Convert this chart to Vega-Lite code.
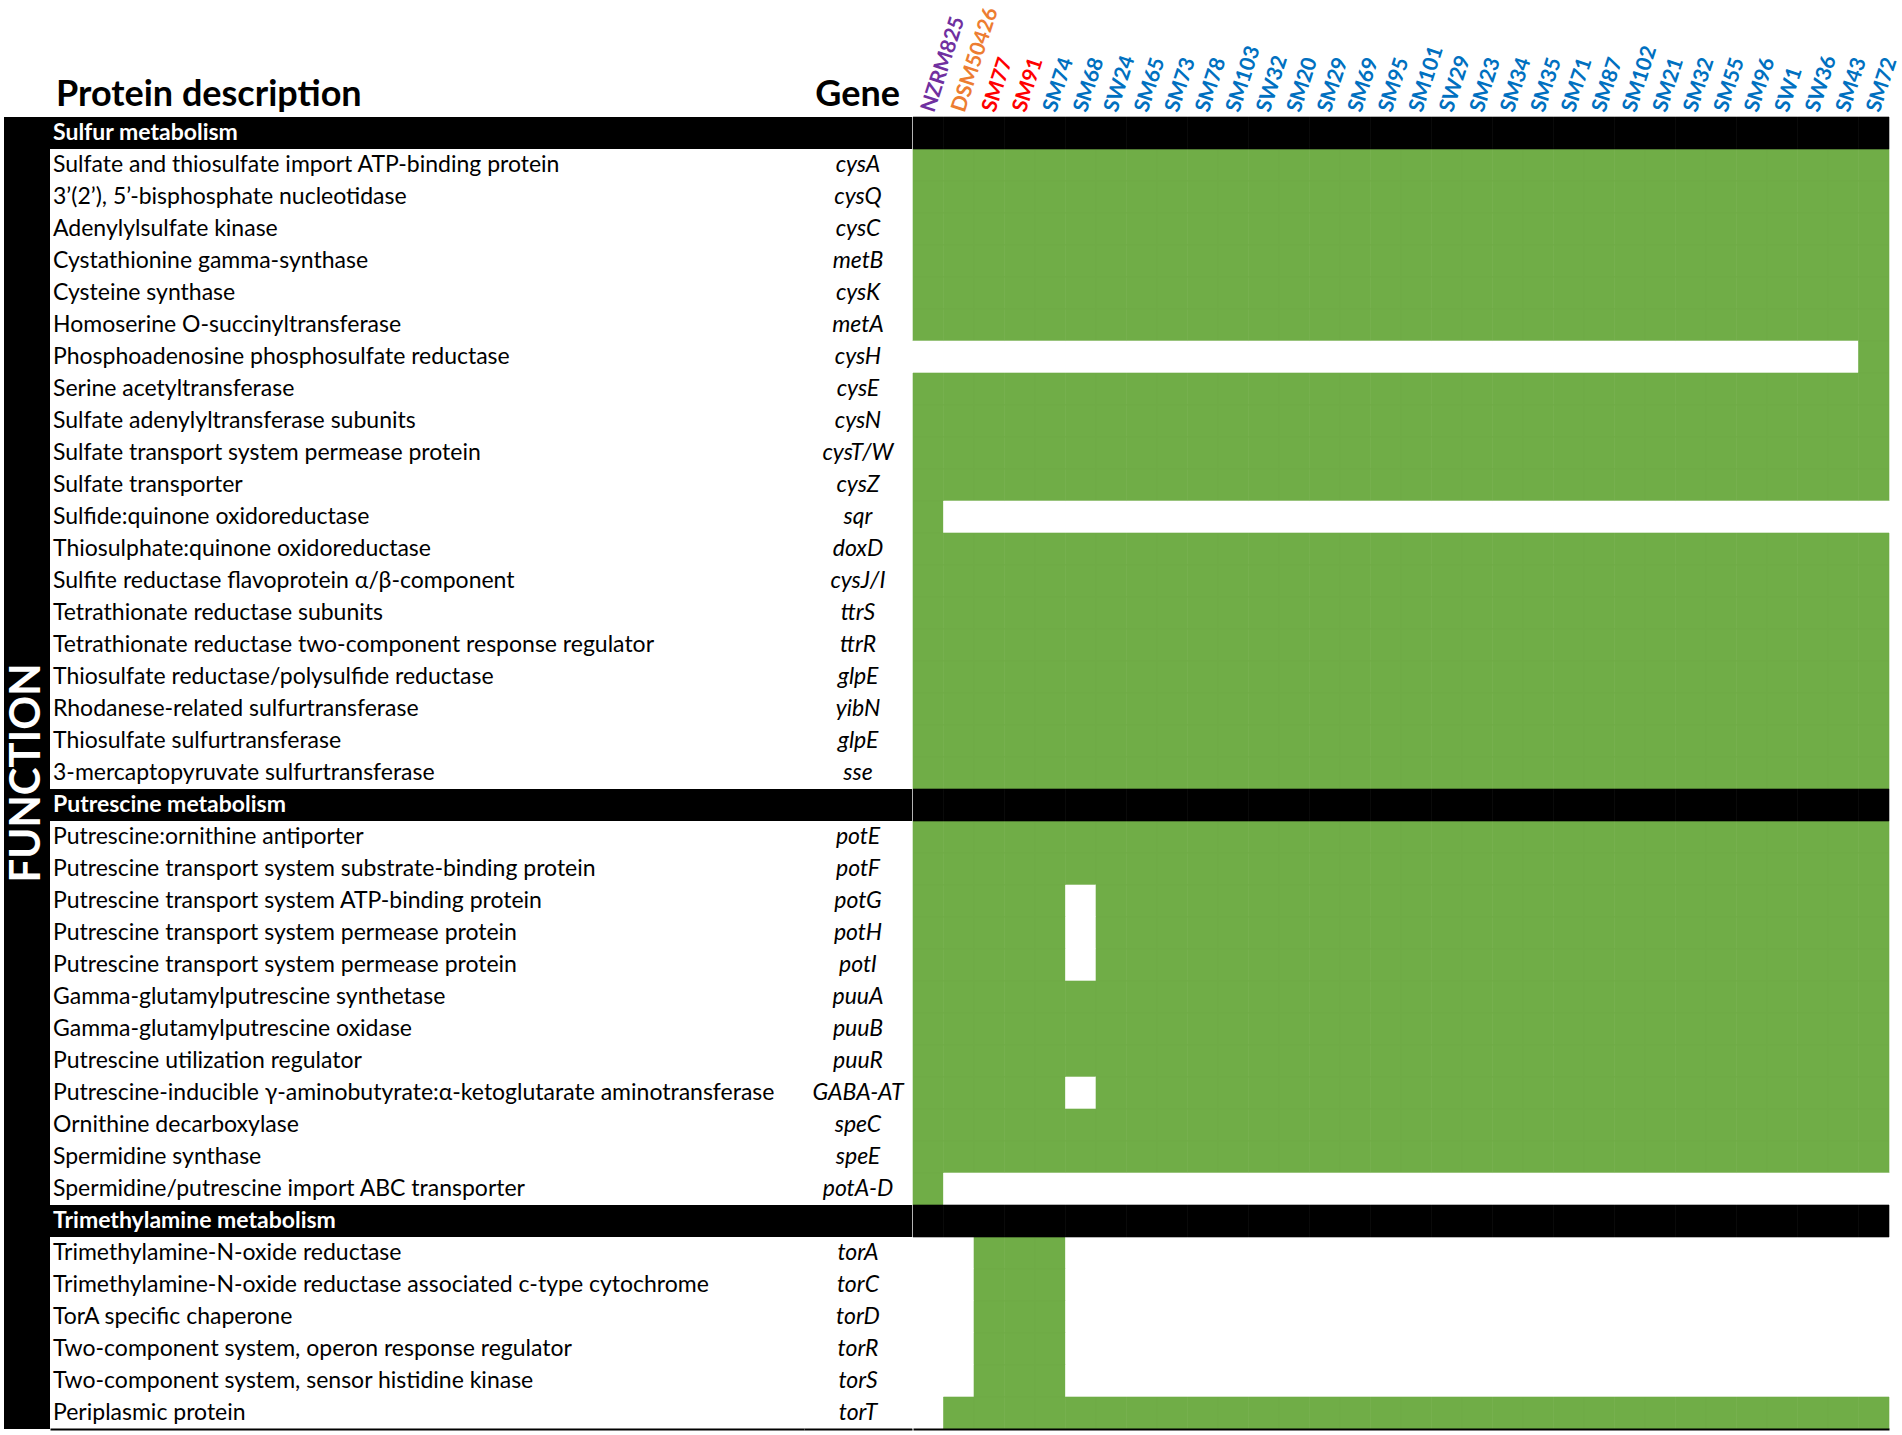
{
  "$schema": "https://vega.github.io/schema/vega-lite/v6.json",
  "padding": {"left": 4, "top": 4, "right": 10, "bottom": 4},
  "background": "white",
  "spacing": 0,
  "config": {"view": {"stroke": null}, "font": "Lato", "concat": {"spacing": 0}},
  "datasets": {
    "rows": [
      {"id":1,"kind":"header","desc":"Sulfur metabolism","gene":""},
      {"id":2,"kind":"gene","desc":"Sulfate and thiosulfate import ATP-binding protein","gene":"cysA","NZRM825":1,"DSM50426":1,"SM77":1,"SM91":1,"SM74":1,"SM68":1,"SW24":1,"SM65":1,"SM73":1,"SM78":1,"SM103":1,"SW32":1,"SM20":1,"SM29":1,"SM69":1,"SM95":1,"SM101":1,"SW29":1,"SM23":1,"SM34":1,"SM35":1,"SM71":1,"SM87":1,"SM102":1,"SM21":1,"SM32":1,"SM55":1,"SM96":1,"SW1":1,"SW36":1,"SM43":1,"SM72":1},
      {"id":3,"kind":"gene","desc":"3’(2’), 5’-bisphosphate nucleotidase","gene":"cysQ","NZRM825":1,"DSM50426":1,"SM77":1,"SM91":1,"SM74":1,"SM68":1,"SW24":1,"SM65":1,"SM73":1,"SM78":1,"SM103":1,"SW32":1,"SM20":1,"SM29":1,"SM69":1,"SM95":1,"SM101":1,"SW29":1,"SM23":1,"SM34":1,"SM35":1,"SM71":1,"SM87":1,"SM102":1,"SM21":1,"SM32":1,"SM55":1,"SM96":1,"SW1":1,"SW36":1,"SM43":1,"SM72":1},
      {"id":4,"kind":"gene","desc":"Adenylylsulfate kinase","gene":"cysC","NZRM825":1,"DSM50426":1,"SM77":1,"SM91":1,"SM74":1,"SM68":1,"SW24":1,"SM65":1,"SM73":1,"SM78":1,"SM103":1,"SW32":1,"SM20":1,"SM29":1,"SM69":1,"SM95":1,"SM101":1,"SW29":1,"SM23":1,"SM34":1,"SM35":1,"SM71":1,"SM87":1,"SM102":1,"SM21":1,"SM32":1,"SM55":1,"SM96":1,"SW1":1,"SW36":1,"SM43":1,"SM72":1},
      {"id":5,"kind":"gene","desc":"Cystathionine gamma-synthase","gene":"metB","NZRM825":1,"DSM50426":1,"SM77":1,"SM91":1,"SM74":1,"SM68":1,"SW24":1,"SM65":1,"SM73":1,"SM78":1,"SM103":1,"SW32":1,"SM20":1,"SM29":1,"SM69":1,"SM95":1,"SM101":1,"SW29":1,"SM23":1,"SM34":1,"SM35":1,"SM71":1,"SM87":1,"SM102":1,"SM21":1,"SM32":1,"SM55":1,"SM96":1,"SW1":1,"SW36":1,"SM43":1,"SM72":1},
      {"id":6,"kind":"gene","desc":"Cysteine synthase","gene":"cysK","NZRM825":1,"DSM50426":1,"SM77":1,"SM91":1,"SM74":1,"SM68":1,"SW24":1,"SM65":1,"SM73":1,"SM78":1,"SM103":1,"SW32":1,"SM20":1,"SM29":1,"SM69":1,"SM95":1,"SM101":1,"SW29":1,"SM23":1,"SM34":1,"SM35":1,"SM71":1,"SM87":1,"SM102":1,"SM21":1,"SM32":1,"SM55":1,"SM96":1,"SW1":1,"SW36":1,"SM43":1,"SM72":1},
      {"id":7,"kind":"gene","desc":"Homoserine O-succinyltransferase","gene":"metA","NZRM825":1,"DSM50426":1,"SM77":1,"SM91":1,"SM74":1,"SM68":1,"SW24":1,"SM65":1,"SM73":1,"SM78":1,"SM103":1,"SW32":1,"SM20":1,"SM29":1,"SM69":1,"SM95":1,"SM101":1,"SW29":1,"SM23":1,"SM34":1,"SM35":1,"SM71":1,"SM87":1,"SM102":1,"SM21":1,"SM32":1,"SM55":1,"SM96":1,"SW1":1,"SW36":1,"SM43":1,"SM72":1},
      {"id":8,"kind":"gene","desc":"Phosphoadenosine phosphosulfate reductase","gene":"cysH","NZRM825":0,"DSM50426":0,"SM77":0,"SM91":0,"SM74":0,"SM68":0,"SW24":0,"SM65":0,"SM73":0,"SM78":0,"SM103":0,"SW32":0,"SM20":0,"SM29":0,"SM69":0,"SM95":0,"SM101":0,"SW29":0,"SM23":0,"SM34":0,"SM35":0,"SM71":0,"SM87":0,"SM102":0,"SM21":0,"SM32":0,"SM55":0,"SM96":0,"SW1":0,"SW36":0,"SM43":0,"SM72":1},
      {"id":9,"kind":"gene","desc":"Serine acetyltransferase","gene":"cysE","NZRM825":1,"DSM50426":1,"SM77":1,"SM91":1,"SM74":1,"SM68":1,"SW24":1,"SM65":1,"SM73":1,"SM78":1,"SM103":1,"SW32":1,"SM20":1,"SM29":1,"SM69":1,"SM95":1,"SM101":1,"SW29":1,"SM23":1,"SM34":1,"SM35":1,"SM71":1,"SM87":1,"SM102":1,"SM21":1,"SM32":1,"SM55":1,"SM96":1,"SW1":1,"SW36":1,"SM43":1,"SM72":1},
      {"id":10,"kind":"gene","desc":"Sulfate adenylyltransferase subunits","gene":"cysN","NZRM825":1,"DSM50426":1,"SM77":1,"SM91":1,"SM74":1,"SM68":1,"SW24":1,"SM65":1,"SM73":1,"SM78":1,"SM103":1,"SW32":1,"SM20":1,"SM29":1,"SM69":1,"SM95":1,"SM101":1,"SW29":1,"SM23":1,"SM34":1,"SM35":1,"SM71":1,"SM87":1,"SM102":1,"SM21":1,"SM32":1,"SM55":1,"SM96":1,"SW1":1,"SW36":1,"SM43":1,"SM72":1},
      {"id":11,"kind":"gene","desc":"Sulfate transport system permease protein","gene":"cysT/W","NZRM825":1,"DSM50426":1,"SM77":1,"SM91":1,"SM74":1,"SM68":1,"SW24":1,"SM65":1,"SM73":1,"SM78":1,"SM103":1,"SW32":1,"SM20":1,"SM29":1,"SM69":1,"SM95":1,"SM101":1,"SW29":1,"SM23":1,"SM34":1,"SM35":1,"SM71":1,"SM87":1,"SM102":1,"SM21":1,"SM32":1,"SM55":1,"SM96":1,"SW1":1,"SW36":1,"SM43":1,"SM72":1},
      {"id":12,"kind":"gene","desc":"Sulfate transporter","gene":"cysZ","NZRM825":1,"DSM50426":1,"SM77":1,"SM91":1,"SM74":1,"SM68":1,"SW24":1,"SM65":1,"SM73":1,"SM78":1,"SM103":1,"SW32":1,"SM20":1,"SM29":1,"SM69":1,"SM95":1,"SM101":1,"SW29":1,"SM23":1,"SM34":1,"SM35":1,"SM71":1,"SM87":1,"SM102":1,"SM21":1,"SM32":1,"SM55":1,"SM96":1,"SW1":1,"SW36":1,"SM43":1,"SM72":1},
      {"id":13,"kind":"gene","desc":"Sulfide:quinone oxidoreductase","gene":"sqr","NZRM825":1,"DSM50426":0,"SM77":0,"SM91":0,"SM74":0,"SM68":0,"SW24":0,"SM65":0,"SM73":0,"SM78":0,"SM103":0,"SW32":0,"SM20":0,"SM29":0,"SM69":0,"SM95":0,"SM101":0,"SW29":0,"SM23":0,"SM34":0,"SM35":0,"SM71":0,"SM87":0,"SM102":0,"SM21":0,"SM32":0,"SM55":0,"SM96":0,"SW1":0,"SW36":0,"SM43":0,"SM72":0},
      {"id":14,"kind":"gene","desc":"Thiosulphate:quinone oxidoreductase","gene":"doxD","NZRM825":1,"DSM50426":1,"SM77":1,"SM91":1,"SM74":1,"SM68":1,"SW24":1,"SM65":1,"SM73":1,"SM78":1,"SM103":1,"SW32":1,"SM20":1,"SM29":1,"SM69":1,"SM95":1,"SM101":1,"SW29":1,"SM23":1,"SM34":1,"SM35":1,"SM71":1,"SM87":1,"SM102":1,"SM21":1,"SM32":1,"SM55":1,"SM96":1,"SW1":1,"SW36":1,"SM43":1,"SM72":1},
      {"id":15,"kind":"gene","desc":"Sulfite reductase flavoprotein α/β-component","gene":"cysJ/I","NZRM825":1,"DSM50426":1,"SM77":1,"SM91":1,"SM74":1,"SM68":1,"SW24":1,"SM65":1,"SM73":1,"SM78":1,"SM103":1,"SW32":1,"SM20":1,"SM29":1,"SM69":1,"SM95":1,"SM101":1,"SW29":1,"SM23":1,"SM34":1,"SM35":1,"SM71":1,"SM87":1,"SM102":1,"SM21":1,"SM32":1,"SM55":1,"SM96":1,"SW1":1,"SW36":1,"SM43":1,"SM72":1},
      {"id":16,"kind":"gene","desc":"Tetrathionate reductase subunits","gene":"ttrS","NZRM825":1,"DSM50426":1,"SM77":1,"SM91":1,"SM74":1,"SM68":1,"SW24":1,"SM65":1,"SM73":1,"SM78":1,"SM103":1,"SW32":1,"SM20":1,"SM29":1,"SM69":1,"SM95":1,"SM101":1,"SW29":1,"SM23":1,"SM34":1,"SM35":1,"SM71":1,"SM87":1,"SM102":1,"SM21":1,"SM32":1,"SM55":1,"SM96":1,"SW1":1,"SW36":1,"SM43":1,"SM72":1},
      {"id":17,"kind":"gene","desc":"Tetrathionate reductase two-component response regulator","gene":"ttrR","NZRM825":1,"DSM50426":1,"SM77":1,"SM91":1,"SM74":1,"SM68":1,"SW24":1,"SM65":1,"SM73":1,"SM78":1,"SM103":1,"SW32":1,"SM20":1,"SM29":1,"SM69":1,"SM95":1,"SM101":1,"SW29":1,"SM23":1,"SM34":1,"SM35":1,"SM71":1,"SM87":1,"SM102":1,"SM21":1,"SM32":1,"SM55":1,"SM96":1,"SW1":1,"SW36":1,"SM43":1,"SM72":1},
      {"id":18,"kind":"gene","desc":"Thiosulfate reductase/polysulfide reductase","gene":"glpE","NZRM825":1,"DSM50426":1,"SM77":1,"SM91":1,"SM74":1,"SM68":1,"SW24":1,"SM65":1,"SM73":1,"SM78":1,"SM103":1,"SW32":1,"SM20":1,"SM29":1,"SM69":1,"SM95":1,"SM101":1,"SW29":1,"SM23":1,"SM34":1,"SM35":1,"SM71":1,"SM87":1,"SM102":1,"SM21":1,"SM32":1,"SM55":1,"SM96":1,"SW1":1,"SW36":1,"SM43":1,"SM72":1},
      {"id":19,"kind":"gene","desc":"Rhodanese-related sulfurtransferase","gene":"yibN","NZRM825":1,"DSM50426":1,"SM77":1,"SM91":1,"SM74":1,"SM68":1,"SW24":1,"SM65":1,"SM73":1,"SM78":1,"SM103":1,"SW32":1,"SM20":1,"SM29":1,"SM69":1,"SM95":1,"SM101":1,"SW29":1,"SM23":1,"SM34":1,"SM35":1,"SM71":1,"SM87":1,"SM102":1,"SM21":1,"SM32":1,"SM55":1,"SM96":1,"SW1":1,"SW36":1,"SM43":1,"SM72":1},
      {"id":20,"kind":"gene","desc":"Thiosulfate sulfurtransferase","gene":"glpE","NZRM825":1,"DSM50426":1,"SM77":1,"SM91":1,"SM74":1,"SM68":1,"SW24":1,"SM65":1,"SM73":1,"SM78":1,"SM103":1,"SW32":1,"SM20":1,"SM29":1,"SM69":1,"SM95":1,"SM101":1,"SW29":1,"SM23":1,"SM34":1,"SM35":1,"SM71":1,"SM87":1,"SM102":1,"SM21":1,"SM32":1,"SM55":1,"SM96":1,"SW1":1,"SW36":1,"SM43":1,"SM72":1},
      {"id":21,"kind":"gene","desc":"3-mercaptopyruvate sulfurtransferase","gene":"sse","NZRM825":1,"DSM50426":1,"SM77":1,"SM91":1,"SM74":1,"SM68":1,"SW24":1,"SM65":1,"SM73":1,"SM78":1,"SM103":1,"SW32":1,"SM20":1,"SM29":1,"SM69":1,"SM95":1,"SM101":1,"SW29":1,"SM23":1,"SM34":1,"SM35":1,"SM71":1,"SM87":1,"SM102":1,"SM21":1,"SM32":1,"SM55":1,"SM96":1,"SW1":1,"SW36":1,"SM43":1,"SM72":1},
      {"id":22,"kind":"header","desc":"Putrescine metabolism","gene":""},
      {"id":23,"kind":"gene","desc":"Putrescine:ornithine antiporter","gene":"potE","NZRM825":1,"DSM50426":1,"SM77":1,"SM91":1,"SM74":1,"SM68":1,"SW24":1,"SM65":1,"SM73":1,"SM78":1,"SM103":1,"SW32":1,"SM20":1,"SM29":1,"SM69":1,"SM95":1,"SM101":1,"SW29":1,"SM23":1,"SM34":1,"SM35":1,"SM71":1,"SM87":1,"SM102":1,"SM21":1,"SM32":1,"SM55":1,"SM96":1,"SW1":1,"SW36":1,"SM43":1,"SM72":1},
      {"id":24,"kind":"gene","desc":"Putrescine transport system substrate-binding protein","gene":"potF","NZRM825":1,"DSM50426":1,"SM77":1,"SM91":1,"SM74":1,"SM68":1,"SW24":1,"SM65":1,"SM73":1,"SM78":1,"SM103":1,"SW32":1,"SM20":1,"SM29":1,"SM69":1,"SM95":1,"SM101":1,"SW29":1,"SM23":1,"SM34":1,"SM35":1,"SM71":1,"SM87":1,"SM102":1,"SM21":1,"SM32":1,"SM55":1,"SM96":1,"SW1":1,"SW36":1,"SM43":1,"SM72":1},
      {"id":25,"kind":"gene","desc":"Putrescine transport system ATP-binding protein","gene":"potG","NZRM825":1,"DSM50426":1,"SM77":1,"SM91":1,"SM74":1,"SM68":0,"SW24":1,"SM65":1,"SM73":1,"SM78":1,"SM103":1,"SW32":1,"SM20":1,"SM29":1,"SM69":1,"SM95":1,"SM101":1,"SW29":1,"SM23":1,"SM34":1,"SM35":1,"SM71":1,"SM87":1,"SM102":1,"SM21":1,"SM32":1,"SM55":1,"SM96":1,"SW1":1,"SW36":1,"SM43":1,"SM72":1},
      {"id":26,"kind":"gene","desc":"Putrescine transport system permease protein","gene":"potH","NZRM825":1,"DSM50426":1,"SM77":1,"SM91":1,"SM74":1,"SM68":0,"SW24":1,"SM65":1,"SM73":1,"SM78":1,"SM103":1,"SW32":1,"SM20":1,"SM29":1,"SM69":1,"SM95":1,"SM101":1,"SW29":1,"SM23":1,"SM34":1,"SM35":1,"SM71":1,"SM87":1,"SM102":1,"SM21":1,"SM32":1,"SM55":1,"SM96":1,"SW1":1,"SW36":1,"SM43":1,"SM72":1},
      {"id":27,"kind":"gene","desc":"Putrescine transport system permease protein","gene":"potI","NZRM825":1,"DSM50426":1,"SM77":1,"SM91":1,"SM74":1,"SM68":0,"SW24":1,"SM65":1,"SM73":1,"SM78":1,"SM103":1,"SW32":1,"SM20":1,"SM29":1,"SM69":1,"SM95":1,"SM101":1,"SW29":1,"SM23":1,"SM34":1,"SM35":1,"SM71":1,"SM87":1,"SM102":1,"SM21":1,"SM32":1,"SM55":1,"SM96":1,"SW1":1,"SW36":1,"SM43":1,"SM72":1},
      {"id":28,"kind":"gene","desc":"Gamma-glutamylputrescine synthetase","gene":"puuA","NZRM825":1,"DSM50426":1,"SM77":1,"SM91":1,"SM74":1,"SM68":1,"SW24":1,"SM65":1,"SM73":1,"SM78":1,"SM103":1,"SW32":1,"SM20":1,"SM29":1,"SM69":1,"SM95":1,"SM101":1,"SW29":1,"SM23":1,"SM34":1,"SM35":1,"SM71":1,"SM87":1,"SM102":1,"SM21":1,"SM32":1,"SM55":1,"SM96":1,"SW1":1,"SW36":1,"SM43":1,"SM72":1},
      {"id":29,"kind":"gene","desc":"Gamma-glutamylputrescine oxidase","gene":"puuB","NZRM825":1,"DSM50426":1,"SM77":1,"SM91":1,"SM74":1,"SM68":1,"SW24":1,"SM65":1,"SM73":1,"SM78":1,"SM103":1,"SW32":1,"SM20":1,"SM29":1,"SM69":1,"SM95":1,"SM101":1,"SW29":1,"SM23":1,"SM34":1,"SM35":1,"SM71":1,"SM87":1,"SM102":1,"SM21":1,"SM32":1,"SM55":1,"SM96":1,"SW1":1,"SW36":1,"SM43":1,"SM72":1},
      {"id":30,"kind":"gene","desc":"Putrescine utilization regulator","gene":"puuR","NZRM825":1,"DSM50426":1,"SM77":1,"SM91":1,"SM74":1,"SM68":1,"SW24":1,"SM65":1,"SM73":1,"SM78":1,"SM103":1,"SW32":1,"SM20":1,"SM29":1,"SM69":1,"SM95":1,"SM101":1,"SW29":1,"SM23":1,"SM34":1,"SM35":1,"SM71":1,"SM87":1,"SM102":1,"SM21":1,"SM32":1,"SM55":1,"SM96":1,"SW1":1,"SW36":1,"SM43":1,"SM72":1},
      {"id":31,"kind":"gene","desc":"Putrescine-inducible γ-aminobutyrate:α-ketoglutarate aminotransferase","gene":"GABA-AT","NZRM825":1,"DSM50426":1,"SM77":1,"SM91":1,"SM74":1,"SM68":0,"SW24":1,"SM65":1,"SM73":1,"SM78":1,"SM103":1,"SW32":1,"SM20":1,"SM29":1,"SM69":1,"SM95":1,"SM101":1,"SW29":1,"SM23":1,"SM34":1,"SM35":1,"SM71":1,"SM87":1,"SM102":1,"SM21":1,"SM32":1,"SM55":1,"SM96":1,"SW1":1,"SW36":1,"SM43":1,"SM72":1},
      {"id":32,"kind":"gene","desc":"Ornithine decarboxylase","gene":"speC","NZRM825":1,"DSM50426":1,"SM77":1,"SM91":1,"SM74":1,"SM68":1,"SW24":1,"SM65":1,"SM73":1,"SM78":1,"SM103":1,"SW32":1,"SM20":1,"SM29":1,"SM69":1,"SM95":1,"SM101":1,"SW29":1,"SM23":1,"SM34":1,"SM35":1,"SM71":1,"SM87":1,"SM102":1,"SM21":1,"SM32":1,"SM55":1,"SM96":1,"SW1":1,"SW36":1,"SM43":1,"SM72":1},
      {"id":33,"kind":"gene","desc":"Spermidine synthase","gene":"speE","NZRM825":1,"DSM50426":1,"SM77":1,"SM91":1,"SM74":1,"SM68":1,"SW24":1,"SM65":1,"SM73":1,"SM78":1,"SM103":1,"SW32":1,"SM20":1,"SM29":1,"SM69":1,"SM95":1,"SM101":1,"SW29":1,"SM23":1,"SM34":1,"SM35":1,"SM71":1,"SM87":1,"SM102":1,"SM21":1,"SM32":1,"SM55":1,"SM96":1,"SW1":1,"SW36":1,"SM43":1,"SM72":1},
      {"id":34,"kind":"gene","desc":"Spermidine/putrescine import ABC transporter","gene":"potA-D","NZRM825":1,"DSM50426":0,"SM77":0,"SM91":0,"SM74":0,"SM68":0,"SW24":0,"SM65":0,"SM73":0,"SM78":0,"SM103":0,"SW32":0,"SM20":0,"SM29":0,"SM69":0,"SM95":0,"SM101":0,"SW29":0,"SM23":0,"SM34":0,"SM35":0,"SM71":0,"SM87":0,"SM102":0,"SM21":0,"SM32":0,"SM55":0,"SM96":0,"SW1":0,"SW36":0,"SM43":0,"SM72":0},
      {"id":35,"kind":"header","desc":"Trimethylamine metabolism","gene":""},
      {"id":36,"kind":"gene","desc":"Trimethylamine-N-oxide reductase","gene":"torA","NZRM825":0,"DSM50426":0,"SM77":1,"SM91":1,"SM74":1,"SM68":0,"SW24":0,"SM65":0,"SM73":0,"SM78":0,"SM103":0,"SW32":0,"SM20":0,"SM29":0,"SM69":0,"SM95":0,"SM101":0,"SW29":0,"SM23":0,"SM34":0,"SM35":0,"SM71":0,"SM87":0,"SM102":0,"SM21":0,"SM32":0,"SM55":0,"SM96":0,"SW1":0,"SW36":0,"SM43":0,"SM72":0},
      {"id":37,"kind":"gene","desc":"Trimethylamine-N-oxide reductase associated c-type cytochrome","gene":"torC","NZRM825":0,"DSM50426":0,"SM77":1,"SM91":1,"SM74":1,"SM68":0,"SW24":0,"SM65":0,"SM73":0,"SM78":0,"SM103":0,"SW32":0,"SM20":0,"SM29":0,"SM69":0,"SM95":0,"SM101":0,"SW29":0,"SM23":0,"SM34":0,"SM35":0,"SM71":0,"SM87":0,"SM102":0,"SM21":0,"SM32":0,"SM55":0,"SM96":0,"SW1":0,"SW36":0,"SM43":0,"SM72":0},
      {"id":38,"kind":"gene","desc":"TorA specific chaperone","gene":"torD","NZRM825":0,"DSM50426":0,"SM77":1,"SM91":1,"SM74":1,"SM68":0,"SW24":0,"SM65":0,"SM73":0,"SM78":0,"SM103":0,"SW32":0,"SM20":0,"SM29":0,"SM69":0,"SM95":0,"SM101":0,"SW29":0,"SM23":0,"SM34":0,"SM35":0,"SM71":0,"SM87":0,"SM102":0,"SM21":0,"SM32":0,"SM55":0,"SM96":0,"SW1":0,"SW36":0,"SM43":0,"SM72":0},
      {"id":39,"kind":"gene","desc":"Two-component system, operon response regulator","gene":"torR","NZRM825":0,"DSM50426":0,"SM77":1,"SM91":1,"SM74":1,"SM68":0,"SW24":0,"SM65":0,"SM73":0,"SM78":0,"SM103":0,"SW32":0,"SM20":0,"SM29":0,"SM69":0,"SM95":0,"SM101":0,"SW29":0,"SM23":0,"SM34":0,"SM35":0,"SM71":0,"SM87":0,"SM102":0,"SM21":0,"SM32":0,"SM55":0,"SM96":0,"SW1":0,"SW36":0,"SM43":0,"SM72":0},
      {"id":40,"kind":"gene","desc":"Two-component system, sensor histidine kinase","gene":"torS","NZRM825":0,"DSM50426":0,"SM77":1,"SM91":1,"SM74":1,"SM68":0,"SW24":0,"SM65":0,"SM73":0,"SM78":0,"SM103":0,"SW32":0,"SM20":0,"SM29":0,"SM69":0,"SM95":0,"SM101":0,"SW29":0,"SM23":0,"SM34":0,"SM35":0,"SM71":0,"SM87":0,"SM102":0,"SM21":0,"SM32":0,"SM55":0,"SM96":0,"SW1":0,"SW36":0,"SM43":0,"SM72":0},
      {"id":41,"kind":"gene","desc":"Periplasmic protein","gene":"torT","NZRM825":0,"DSM50426":1,"SM77":1,"SM91":1,"SM74":1,"SM68":1,"SW24":1,"SM65":1,"SM73":1,"SM78":1,"SM103":1,"SW32":1,"SM20":1,"SM29":1,"SM69":1,"SM95":1,"SM101":1,"SW29":1,"SM23":1,"SM34":1,"SM35":1,"SM71":1,"SM87":1,"SM102":1,"SM21":1,"SM32":1,"SM55":1,"SM96":1,"SW1":1,"SW36":1,"SM43":1,"SM72":1}
    ],
    "func": [{"label": "FUNCTION"}]
  },
  "hconcat": [
    {
      "width": 46, "height": 1312,
      "layer": [
        {
          "data": {"name": "rows"},
          "mark": {"type": "rect", "color": "#000000"},
          "encoding": {
            "y": {"field": "id", "type": "ordinal", "scale": {"domain": [1,2,3,4,5,6,7,8,9,10,11,12,13,14,15,16,17,18,19,20,21,22,23,24,25,26,27,28,29,30,31,32,33,34,35,36,37,38,39,40,41], "paddingInner": 0, "paddingOuter": 0}, "axis": null}
          }
        },
        {
          "data": {"name": "func"},
          "mark": {"type": "text", "angle": 270, "align": "center", "baseline": "middle", "fontSize": 42, "fontWeight": "bold", "color": "#FFFFFF", "font": "Lato"},
          "encoding": {
            "x": {"datum": 0.5, "type": "quantitative", "scale": {"domain": [0, 1]}, "axis": null},
            "y": {"datum": 21, "type": "ordinal"},
            "text": {"field": "label"}
          }
        }
      ]
    },
    {
      "width": 754, "height": 1312,
      "title": {"text": "Protein description", "anchor": "start", "fontSize": 36, "fontWeight": "bold", "font": "Lato", "color": "#000000", "offset": 3, "dx": 6},
      "data": {"name": "rows"},
      "layer": [
        {
          "transform": [{"filter": "datum.kind === 'header'"}],
          "mark": {"type": "rect", "color": "#000000"},
          "encoding": {
            "y": {"field": "id", "type": "ordinal", "scale": {"domain": [1,2,3,4,5,6,7,8,9,10,11,12,13,14,15,16,17,18,19,20,21,22,23,24,25,26,27,28,29,30,31,32,33,34,35,36,37,38,39,40,41], "paddingInner": 0, "paddingOuter": 0}, "axis": null}
          }
        },
        {
          "transform": [{"filter": "datum.kind === 'gene'"}],
          "mark": {"type": "text", "align": "left", "baseline": "middle", "dx": 3, "fontSize": 23, "font": "Lato", "color": "#000000"},
          "encoding": {
            "x": {"datum": 0, "type": "quantitative", "scale": {"domain": [0, 1]}, "axis": {"orient": "bottom", "labels": false, "ticks": false, "grid": false, "title": null, "domainColor": "#000000", "domainWidth": 2}},
            "y": {"field": "id", "type": "ordinal"},
            "text": {"field": "desc"}
          }
        },
        {
          "transform": [{"filter": "datum.kind === 'header'"}],
          "mark": {"type": "text", "align": "left", "baseline": "middle", "dx": 3, "fontSize": 23, "fontWeight": "bold", "font": "Lato", "color": "#FFFFFF"},
          "encoding": {
            "x": {"datum": 0, "type": "quantitative"},
            "y": {"field": "id", "type": "ordinal"},
            "text": {"field": "desc"}
          }
        }
      ]
    },
    {
      "width": 108, "height": 1312,
      "title": {"text": "Gene", "anchor": "end", "fontSize": 36, "fontWeight": "bold", "font": "Lato", "color": "#000000", "offset": 3, "dx": -12},
      "data": {"name": "rows"},
      "layer": [
        {
          "transform": [{"filter": "datum.kind === 'header'"}],
          "mark": {"type": "rect", "color": "#000000"},
          "encoding": {
            "y": {"field": "id", "type": "ordinal", "scale": {"domain": [1,2,3,4,5,6,7,8,9,10,11,12,13,14,15,16,17,18,19,20,21,22,23,24,25,26,27,28,29,30,31,32,33,34,35,36,37,38,39,40,41], "paddingInner": 0, "paddingOuter": 0}, "axis": null}
          }
        },
        {
          "transform": [{"filter": "datum.kind === 'gene'"}],
          "mark": {"type": "text", "align": "center", "baseline": "middle", "fontSize": 23, "fontStyle": "italic", "font": "Lato", "color": "#000000"},
          "encoding": {
            "x": {"datum": 0.5, "type": "quantitative", "scale": {"domain": [0, 1]}, "axis": {"orient": "bottom", "labels": false, "ticks": false, "grid": false, "title": null, "domainColor": "#000000", "domainWidth": 2}},
            "y": {"field": "id", "type": "ordinal"},
            "text": {"field": "gene"}
          }
        }
      ]
    },
    {
      "width": 976, "height": 1312,
      "data": {"name": "rows"},
      "layer": [
        {
          "transform": [
            {"filter": "datum.kind === 'gene'"},
            {"fold": ["NZRM825","DSM50426","SM77","SM91","SM74","SM68","SW24","SM65","SM73","SM78","SM103","SW32","SM20","SM29","SM69","SM95","SM101","SW29","SM23","SM34","SM35","SM71","SM87","SM102","SM21","SM32","SM55","SM96","SW1","SW36","SM43","SM72"], "as": ["strain", "v"]}
          ],
          "mark": {"type": "rect", "strokeWidth": 0.6},
          "encoding": {
            "x": {
              "field": "strain", "type": "nominal",
              "scale": {"domain": ["NZRM825","DSM50426","SM77","SM91","SM74","SM68","SW24","SM65","SM73","SM78","SM103","SW32","SM20","SM29","SM69","SM95","SM101","SW29","SM23","SM34","SM35","SM71","SM87","SM102","SM21","SM32","SM55","SM96","SW1","SW36","SM43","SM72"], "paddingInner": 0, "paddingOuter": 0},
              "axis": {
                "orient": "top", "title": null, "ticks": false, "domain": false, "grid": false,
                "labelAngle": -72, "labelAlign": "left", "labelBaseline": "middle", "labelPadding": 6,
                "labelFont": "Lato", "labelFontSize": 21, "labelFontWeight": "bold",
                "labelOverlap": false, "labelLimit": 0, "labelBound": false, "labelFlush": false,
                "labelColor": {"expr": "datum.value === 'NZRM825' ? '#7030A0' : datum.value === 'DSM50426' ? '#ED7D31' : (datum.value === 'SM77' || datum.value === 'SM91') ? '#FF0000' : '#0070C0'"}
              }
            },
            "y": {"field": "id", "type": "ordinal", "scale": {"domain": [1,2,3,4,5,6,7,8,9,10,11,12,13,14,15,16,17,18,19,20,21,22,23,24,25,26,27,28,29,30,31,32,33,34,35,36,37,38,39,40,41], "paddingInner": 0, "paddingOuter": 0}, "axis": null},
            "color": {"field": "v", "type": "nominal", "scale": {"domain": [1, 0], "range": ["#70AD47", "#FFFFFF"]}, "legend": null},
            "stroke": {"field": "v", "type": "nominal", "scale": {"domain": [1, 0], "range": ["#70AD47", "#FFFFFF"]}, "legend": null}
          }
        },
        {
          "transform": [
            {"filter": "datum.kind === 'header'"},
            {"fold": ["NZRM825","DSM50426","SM77","SM91","SM74","SM68","SW24","SM65","SM73","SM78","SM103","SW32","SM20","SM29","SM69","SM95","SM101","SW29","SM23","SM34","SM35","SM71","SM87","SM102","SM21","SM32","SM55","SM96","SW1","SW36","SM43","SM72"], "as": ["strain", "v"]}
          ],
          "mark": {"type": "rect", "color": "#000000", "stroke": "#000000", "strokeWidth": 0.6},
          "encoding": {
            "x": {"field": "strain", "type": "nominal", "axis": {"orient": "bottom", "labels": false, "ticks": false, "grid": false, "title": null, "domainColor": "#000000", "domainWidth": 2}},
            "y": {"field": "id", "type": "ordinal"}
          }
        }
      ]
    }
  ]
}
